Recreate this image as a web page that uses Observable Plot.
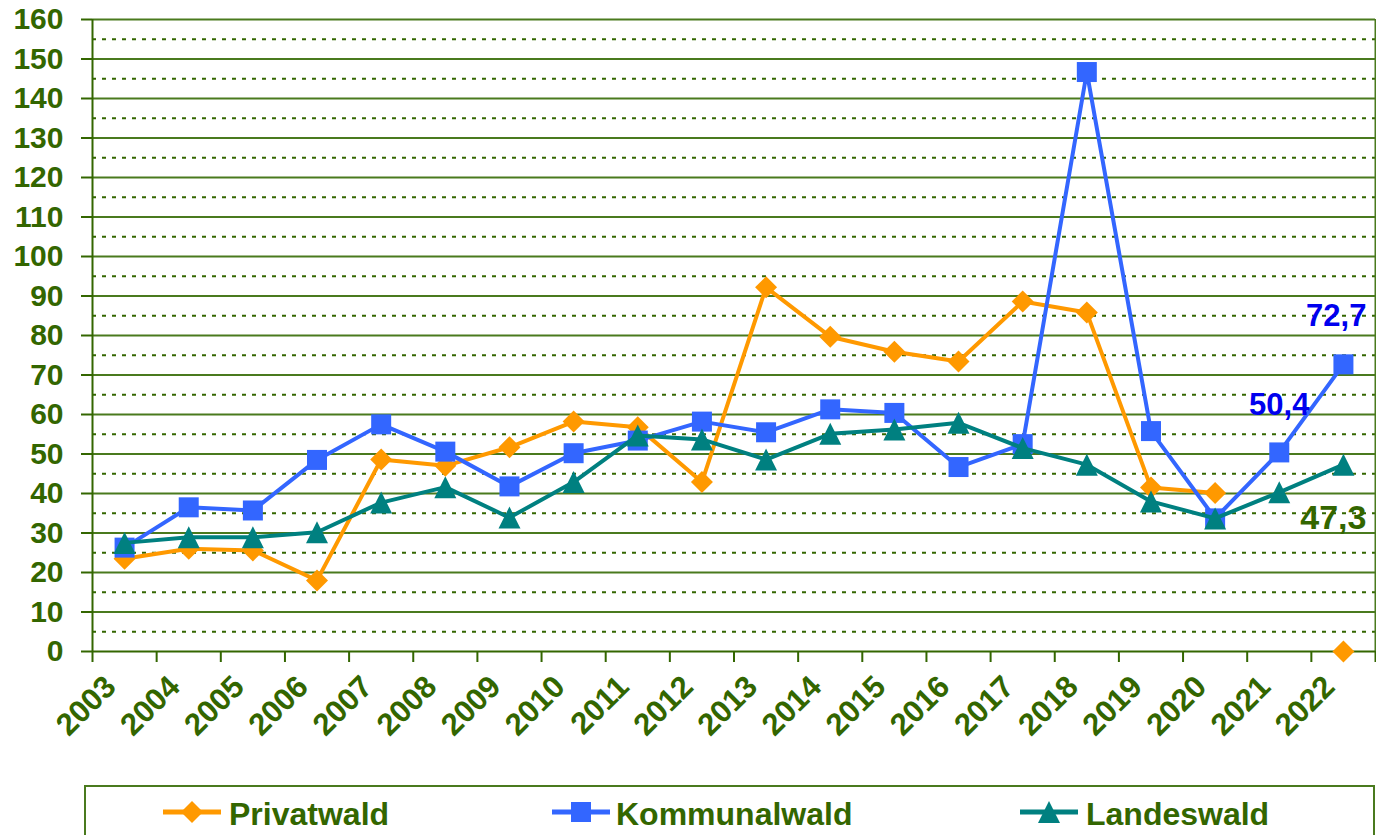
<!DOCTYPE html>
<html><head><meta charset="utf-8">
<script src="https://cdn.jsdelivr.net/npm/d3@7"></script>
<script src="https://cdn.jsdelivr.net/npm/@observablehq/plot@0.6"></script>
<style>
body{margin:0;background:#fff;overflow:hidden;width:1376px;height:835px;font-family:"Liberation Sans",Arial,sans-serif;}
#chart{position:absolute;left:0;top:0;}
#legendbox{position:absolute;left:84px;top:785px;width:1291px;height:80px;border:2px solid #4a7a1e;box-sizing:border-box;}
.lg{position:absolute;font-size:32px;font-weight:bold;color:#336600;line-height:32px;white-space:nowrap;}
.lgsym{position:absolute;}
</style></head><body>
<div id="chart"></div>
<div id="legendbox"></div>
<div id="legend"></div>
<script>
const years = ["2003","2004","2005","2006","2007","2008","2009","2010","2011","2012","2013","2014","2015","2016","2017","2018","2019","2020","2021","2022"];
const seriesNames = ["Privatwald","Kommunalwald","Landeswald"];
const privatwald   = [23.5, 26.0, 25.6, 18.0, 48.6, 47.0, 51.7, 58.2, 56.8, 42.9, 92.2, 79.7, 75.9, 73.4, 88.6, 85.8, 41.5, 40.1, null, 0];
const kommunalwald = [26.3, 36.5, 35.7, 48.5, 57.5, 50.6, 41.8, 50.2, 53.4, 58.2, 55.5, 61.3, 60.4, 46.7, 52.5, 146.7, 55.8, 33.7, 50.4, 72.7];
const landeswald   = [27.5, 28.9, 28.9, 30.2, 37.7, 41.6, 33.9, 42.9, 54.7, 53.7, 48.6, 55.1, 56.2, 57.9, 51.5, 47.3, 38.0, 33.7, 40.3, 47.3];
const yTicks = d3.range(0, 161, 10);
const labelSeries = ["Kommunalwald","Kommunalwald","Landeswald"];
const labelYears  = ["2022","2021","2022"];

const colors = {Privatwald:"#FF9900", Kommunalwald:"#3366FF", Landeswald:"#008080"};
const GREEN = "#336600", GRID = "#4a7a1e";

const symDiamond = {draw(ctx, size){const r=Math.sqrt(size/Math.PI); ctx.moveTo(0,-r); ctx.lineTo(r,0); ctx.lineTo(0,r); ctx.lineTo(-r,0); ctx.closePath();}};
const symSquare  = {draw(ctx, size){const r=Math.sqrt(size/Math.PI); ctx.rect(-r,-r,2*r,2*r);}};
const symTriangle= {draw(ctx, size){const r=Math.sqrt(size/Math.PI); ctx.moveTo(0,-r); ctx.lineTo(r,r); ctx.lineTo(-r,r); ctx.closePath();}};
const symbols = {Privatwald:symDiamond, Kommunalwald:symSquare, Landeswald:symTriangle};
const symR = {Privatwald:11, Kommunalwald:10, Landeswald:11};

const valuesBySeries = {Privatwald:privatwald, Kommunalwald:kommunalwald, Landeswald:landeswald};
const rows = seriesNames.flatMap(s => years.map((y, i) => ({series:s, year:y, idx:years.indexOf(y), value:valuesBySeries[s][i]})));
const xpos = d => d.idx + 0.5;

const labels = labelSeries.map((s, k) => {
  const idx = years.indexOf(labelYears[k]);
  const v = valuesBySeries[s][idx];
  return {series:s, year:labelYears[k], idx, value:v, text:d3.format(".1f")(v).replace(".", ",")};
});

const seriesMarks = seriesNames.flatMap(s => [
  Plot.line(rows.filter(d => d.series === s), {x:xpos, y:"value", stroke:colors[s], strokeWidth:4, strokeLinejoin:"miter", strokeLinecap:"butt"}),
  Plot.dot(rows.filter(d => d.series === s && d.value != null), {x:xpos, y:"value", fill:colors[s], stroke:"none", r:symR[s], symbol:symbols[s]})
]);

const chart = Plot.plot({
  width:1376, height:780,
  marginLeft:92, marginRight:1, marginTop:19, marginBottom:129,
  x:{type:"linear", domain:[0, years.length], axis:null},
  y:{domain:[0,160], axis:null},
  style:{fontFamily:"'Liberation Sans', Arial, sans-serif", color:GREEN, background:"white", overflow:"visible"},
  marks:[
    Plot.ruleY(d3.range(5, 160, 10), {stroke:GREEN, strokeWidth:2, strokeDasharray:"4,6"}),
    Plot.ruleY(yTicks.filter(v => v > 0), {stroke:GRID, strokeWidth:2}),
    Plot.ruleX([years.length], {stroke:GRID, strokeWidth:2, y1:0, y2:160}),
    Plot.axisY({ticks:yTicks, label:null, tickSize:11, tickPadding:18, fontSize:30, fontWeight:"bold", stroke:GREEN, strokeWidth:2, fill:GREEN}),
    Plot.axisX({ticks:d3.range(0, years.length + 1), label:null, tickFormat:() => "", tickSize:11, stroke:GREEN, strokeWidth:2}),
    Plot.ruleX([0], {stroke:GREEN, strokeWidth:2}),
    Plot.ruleY([0], {stroke:GREEN, strokeWidth:2}),
    Plot.text(years, {x:(d, i) => i + 0.5, frameAnchor:"bottom", text:d => d, rotate:-45, textAnchor:"end", lineAnchor:"bottom", dx:-7, dy:37, fontSize:31, fontWeight:"bold", fill:GREEN}),
    ...seriesMarks,
    Plot.text(labels.filter(d => d.year === "2022" && d.series === "Kommunalwald"), {x:xpos, y:"value", text:"text", textAnchor:"end", lineAnchor:"bottom", dx:23, dy:-38, fontSize:31, fontWeight:"bold", fill:"#0000EE"}),
    Plot.text(labels.filter(d => d.year === "2021"), {x:xpos, y:"value", text:"text", textAnchor:"middle", lineAnchor:"bottom", dx:0, dy:-37, fontSize:31, fontWeight:"bold", fill:"#0000EE"}),
    Plot.text(labels.filter(d => d.series === "Landeswald"), {x:xpos, y:"value", text:"text", textAnchor:"end", lineAnchor:"bottom", dx:23, dy:64, fontSize:34, fontWeight:"bold", fill:GREEN})
  ]
});
document.getElementById("chart").appendChild(chart);

const legendPos = {Privatwald:{sym:163, text:229}, Kommunalwald:{sym:552, text:616}, Landeswald:{sym:1020, text:1086}};
const legend = document.getElementById("legend");
seriesNames.forEach(s => {
  const p = legendPos[s];
  const svg = d3.create("svg").attr("class","lgsym").attr("width",58).attr("height",26)
    .style("left", p.sym + "px").style("top", (812 - 13) + "px");
  svg.append("line").attr("x1",0).attr("x2",58).attr("y1",13).attr("y2",13).attr("stroke",colors[s]).attr("stroke-width",5);
  const path = d3.path(); symbols[s].draw(path, Math.PI * symR[s] * symR[s]);
  svg.append("path").attr("d", path.toString()).attr("transform","translate(29,13)").attr("fill",colors[s]);
  legend.appendChild(svg.node());
  const t = document.createElement("div");
  t.className = "lg"; t.textContent = s;
  t.style.left = p.text + "px"; t.style.top = (825 - 27) + "px";
  legend.appendChild(t);
});
</script>
</body></html>
